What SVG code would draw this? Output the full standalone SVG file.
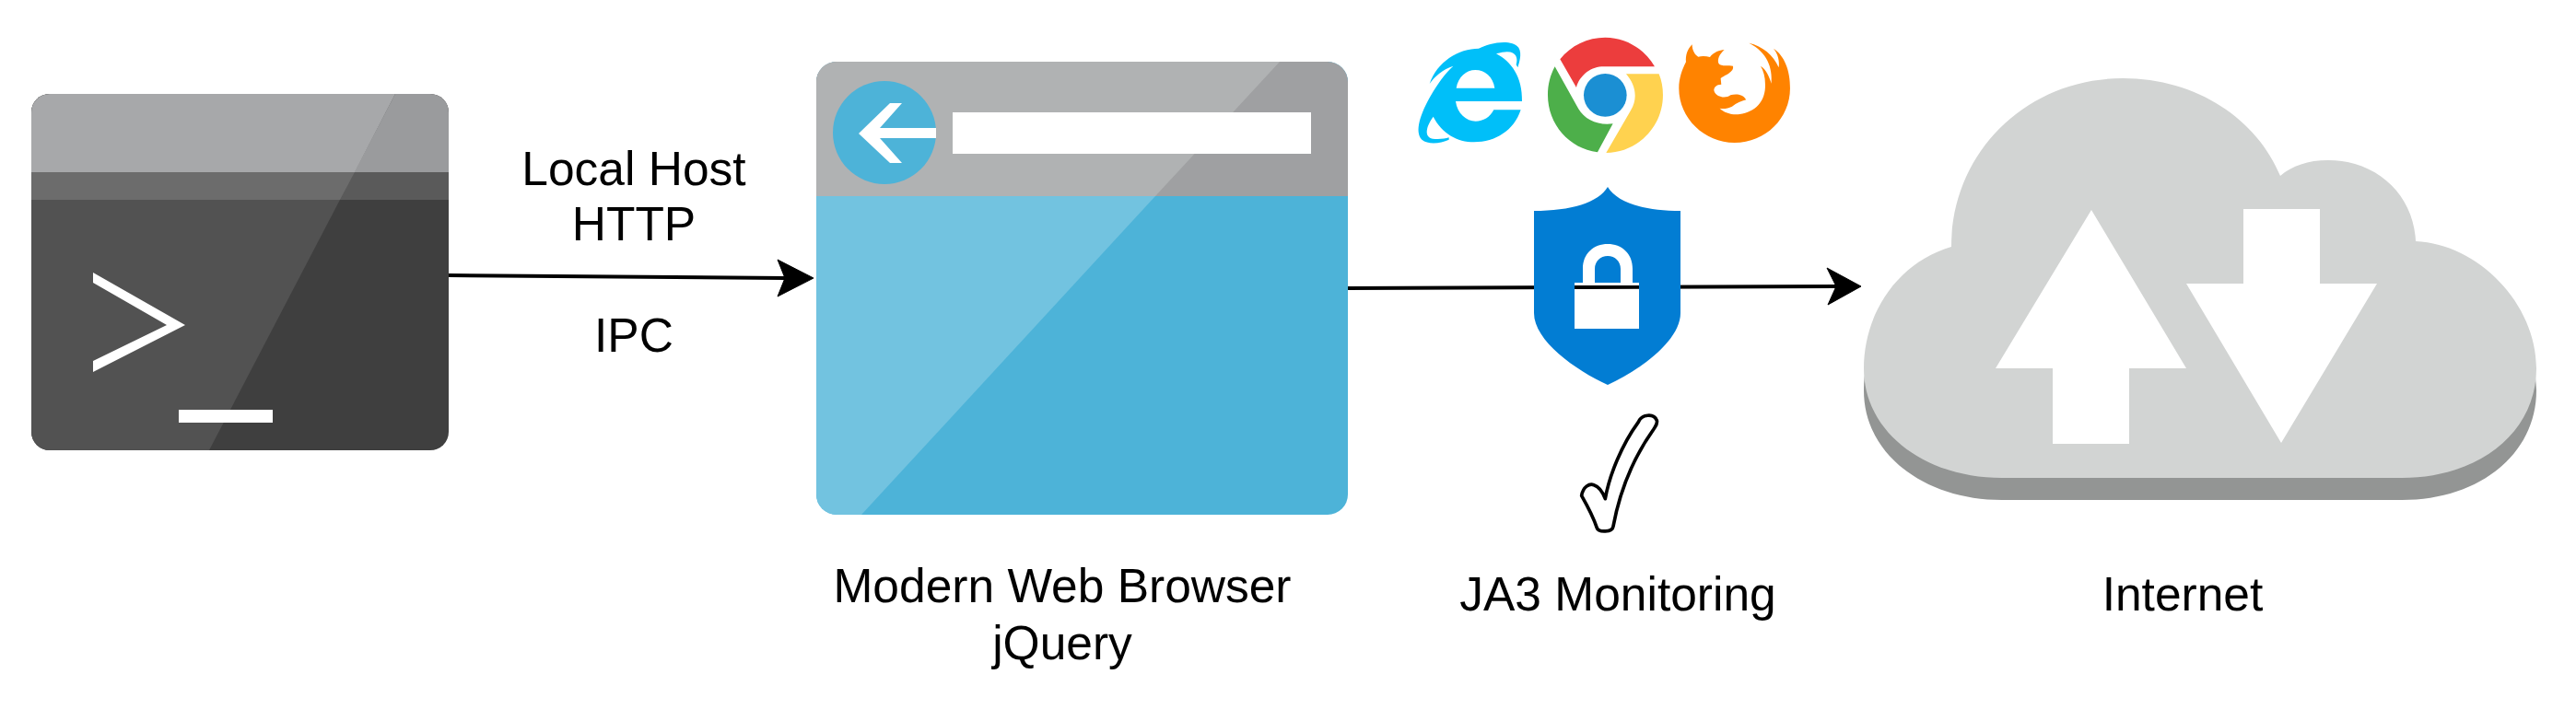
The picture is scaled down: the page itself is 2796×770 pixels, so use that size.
<svg xmlns="http://www.w3.org/2000/svg" width="2796" height="770" viewBox="0 0 2796 770">
<style>
text{font-family:"Liberation Sans",Arial,sans-serif;font-size:51.5px;fill:#000;text-anchor:middle}
.conn{fill:none;stroke:#000;stroke-width:4}
.head{fill:#000;stroke:#000;stroke-width:1}
.w{fill:#fff}
</style>
<defs>
<clipPath id="ct"><rect x="34" y="102" width="453" height="387" rx="20"/></clipPath>
<clipPath id="cb"><rect x="886" y="67" width="577" height="492" rx="22"/></clipPath>
<path id="cloud" d="M2118,268C2118,165 2200,85 2304,85C2385,85 2450,130 2475,191C2488,180 2505,174 2527,174C2580,174 2620,212 2622,262C2690,265 2753,330 2753,400C2753,470 2690,519 2607,519L2173,519C2090,519 2023,470 2023,400C2023,340 2060,285 2118,268Z"/>
</defs>
<rect width="2796" height="770" fill="#fff"/>
<g id="connectors">
<path class="conn" d="M487,299L852,302"/>
<path class="head" d="M883,302L844,322L852,302L844,282Z"/>
<path class="conn" d="M1463,313L1993,311"/>
<path class="head" d="M2020,311L1984,331L1993,311L1983,291Z"/>
</g>
<g id="terminal">
<g clip-path="url(#ct)">
<rect x="34" y="102" width="453" height="387" fill="#3f3f3f"/>
<rect x="34" y="102" width="453" height="85" fill="#9a9b9d"/>
<rect x="34" y="187" width="453" height="30" fill="#5a5a5a"/>
<path d="M34,102H429L227,489H34Z" fill="#525252"/>
<path d="M34,102H429L385,187H34Z" fill="#a7a8aa"/>
<path d="M34,187H385L369,217H34Z" fill="#6c6c6c"/>
</g>
<path class="w" d="M101,296L201,353L101,404V392L181,353L101,307Z"/>
<rect class="w" x="194" y="445" width="102" height="14"/>
</g>
<g id="browser">
<g clip-path="url(#cb)">
<rect x="886" y="67" width="577" height="492" fill="#4db3d8"/>
<rect x="886" y="67" width="577" height="146" fill="#9fa0a2"/>
<path d="M886,213H1254L935,559H886Z" fill="#72c3e0"/>
<path d="M886,67H1389L1254,213H886Z" fill="#b0b2b3"/>
</g>
<ellipse cx="960" cy="144" rx="56" ry="56" fill="#4db3d8"/>
<path class="w" d="M932,145L966,112H979L955,139H1016V150H955L979,177H966Z"/>
<rect class="w" x="1034" y="122" width="389" height="45"/>
</g>
<g id="browser-icons">
<g id="ie" transform="translate(1500,20) scale(.3333)">
<path fill="#00bff9" fill-rule="evenodd" d="M155,213C180,140 250,98 315,98C350,80 420,65 445,95C458,115 445,150 442,160L437,150C445,125 435,95 372,115C420,140 458,190 456,270L240,270C245,310 275,335 305,335C330,335 352,322 364,298L452,298C430,365 370,403 300,403C245,403 195,375 167,320C145,350 135,385 165,392C185,395 205,392 218,388L218,395C190,408 150,412 130,395C105,370 125,310 160,250C180,215 205,180 232,155C200,165 170,190 155,213ZM242,227C248,190 275,168 304,168C335,168 362,190 367,227Z"/>
</g>
<g id="chrome" transform="translate(1500,20) scale(.3333)">
<circle cx="727" cy="250" r="70" fill="#1b8fd3"/>
<path fill="#ec3d3d" d="M580,133C615,88 670,62 727,62C795,62 855,100 888,157L715,157C675,160 642,190 633,225Z"/>
<path fill="#4daf4a" d="M563,157L640,295C660,330 705,350 752,343L702,436C610,425 540,345 540,250C540,215 548,185 563,157Z"/>
<path fill="#ffd24f" d="M795,181H902C911,202 915,226 915,250C915,355 830,438 730,438L810,300C835,260 825,215 795,181Z"/>
</g>
<g id="firefox" transform="translate(1500,20) scale(.3333)">
<path fill="#ff8300" d="M1010,85C1010,105 1020,120 1030,125C1040,122 1055,122 1068,126C1080,110 1100,103 1115,103C1100,115 1090,135 1097,148C1105,157 1130,153 1143,155C1148,175 1115,185 1103,195L1105,215C1090,215 1078,225 1082,238C1090,258 1120,262 1135,250C1150,245 1175,245 1186,265C1170,270 1155,275 1140,287C1125,295 1110,295 1100,293C1115,308 1140,315 1165,312C1215,305 1250,270 1248,215C1248,190 1242,170 1233,155C1250,165 1262,190 1268,212C1272,160 1255,110 1195,80C1240,90 1275,120 1292,160C1295,140 1290,115 1275,98C1310,120 1330,170 1329,228C1329,325 1250,405 1148,405C1050,405 967,325 967,228C967,195 978,165 990,142C988,120 995,100 1010,85Z"/>
</g>
</g>
<g id="shield">
<path fill="#027dd3" fill-rule="evenodd" d="M1745,203C1755,220 1785,229 1824,229V340C1824,370 1780,402 1745,418C1710,402 1665,370 1665,340V229C1705,229 1735,220 1745,203ZM1709,308H1779V357H1709Z"/>
<path class="w" d="M1718,308V292C1718,275 1730,265 1745,265C1760,265 1772,275 1772,292V308H1759V292C1759,284 1753,278 1745,278C1737,278 1731,284 1731,292V308Z"/>
<path class="w" d="M1709,314H1779V354Q1779,357 1776,357H1712Q1709,357 1709,354Z"/>
<rect class="w" x="1709" y="307" width="70" height="3"/>
</g>
<g id="check" transform="translate(1680,430) scale(.3333)">
<path fill="#fff" stroke="#000" stroke-width="11" stroke-linejoin="round" d="M110,325C115,295 135,285 150,290C165,295 178,310 187,335C200,260 240,160 295,85C305,60 345,55 355,80C358,92 350,100 345,108C290,185 240,280 213,425C210,445 165,445 160,430C150,400 130,360 110,325Z"/>
</g>
<g id="cloud-node">
<use href="#cloud" y="24" fill="#939594"/>
<use href="#cloud" fill="#d2d4d3"/>
<path class="w" d="M2270,228L2373,400H2311V482H2228V400H2166Z"/>
<path class="w" d="M2435,227H2518V308H2580L2476,481L2373,308H2435Z"/>
</g>
<g id="labels">
<text x="688" y="201">Local Host</text>
<text x="688" y="261">HTTP</text>
<text x="688" y="382">IPC</text>
<text x="1153" y="654">Modern Web Browser</text>
<text x="1153" y="716">jQuery</text>
<text x="1756" y="663">JA3 Monitoring</text>
<text x="2369" y="663">Internet</text>
</g>
</svg>
